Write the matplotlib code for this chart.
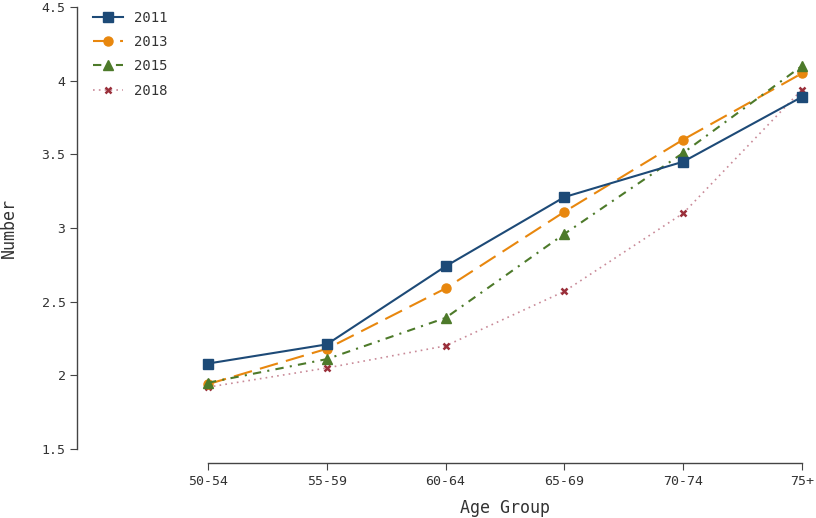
import matplotlib
matplotlib.use("Agg")
import matplotlib.pyplot as plt

plt.rcParams["font.family"] = ["DejaVu Sans Mono"]

age_groups = ["50-54", "55-59", "60-64", "65-69", "70-74", "75+"]
y2011 = [2.08, 2.21, 2.74, 3.21, 3.45, 3.89]
y2013 = [1.94, 2.18, 2.59, 3.11, 3.60, 4.05]
y2015 = [1.95, 2.11, 2.39, 2.96, 3.51, 4.10]
y2018 = [1.92, 2.05, 2.20, 2.57, 3.10, 3.94]
yticks = [1.5, 2, 2.5, 3, 3.5, 4, 4.5]

fig = plt.figure(figsize=(8.16, 5.18), dpi=100)
ax = fig.add_axes([208 / 816, 69 / 518, 594 / 816, 442 / 518])
x = range(len(age_groups))

ax.plot(x, y2011, color="#1d4a77", lw=1.5, marker="s", ms=6.5,
        label="2011", clip_on=False, zorder=4)
ax.plot(x, y2013, color="#e8870e", lw=1.5, dashes=(9, 4), marker="o", ms=6.5,
        label="2013", clip_on=False, zorder=3)
ax.plot(x, y2015, color="#4d7a2a", lw=1.5, dashes=(4, 3, 1, 3), marker="^", ms=7.5,
        label="2015", clip_on=False, zorder=3)
ax.plot(x, y2018, color="#c98a98", lw=1.2, ls=(0, (1, 2.5)), marker="x", ms=5,
        mec="#9a2f3a", mew=1.8, label="2018", clip_on=False, zorder=2)

ax.set_xlim(0, len(age_groups) - 1)
ax.set_ylim(1.5, 4.5)
ax.set_xticks(list(x))
ax.set_xticklabels(age_groups)
ax.set_yticks(yticks)
ax.set_yticklabels([f"{v:g}" for v in yticks])

for s in ["top", "right"]:
    ax.spines[s].set_visible(False)
ax.spines["left"].set_position(("outward", 94))
ax.spines["bottom"].set_position(("outward", 10))
for s in ["left", "bottom"]:
    ax.spines[s].set_color("#444444")
    ax.spines[s].set_linewidth(1.0)
ax.tick_params(axis="both", direction="out", length=5, color="#444444",
               labelsize=9.5, labelcolor="#333333")

ax.set_xlabel("Age Group", fontsize=12, color="#333333", labelpad=8)
ax.set_ylabel("Number", fontsize=12, color="#333333", labelpad=17)

fig.legend(loc="upper left", bbox_to_anchor=(80 / 816, 1 + 2 / 518), frameon=False,
           fontsize=10, handlelength=2.2, labelspacing=0.75, labelcolor="#333333")

fig.savefig("out.png", dpi=100)
